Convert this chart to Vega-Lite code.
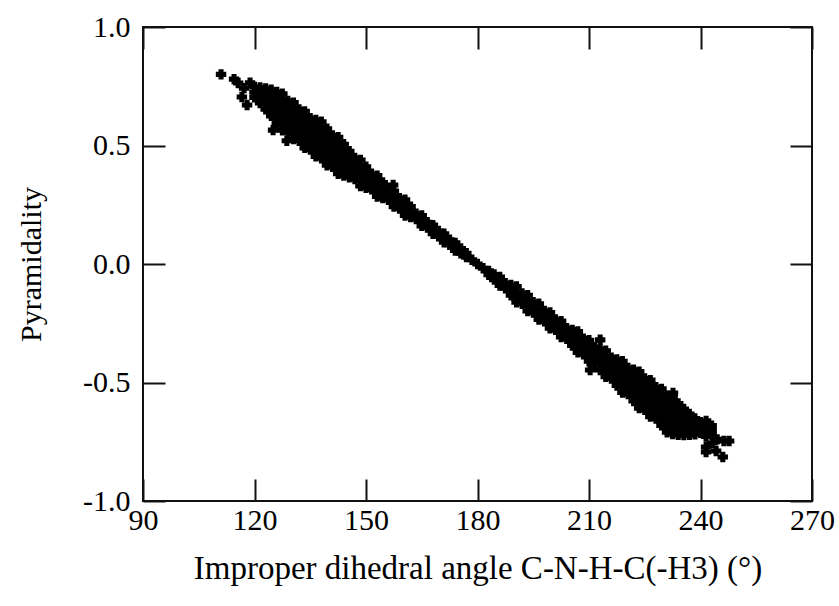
{
"$schema":"https://vega.github.io/schema/vega-lite/v6.json",
"width":669,"height":474,
"autosize":{"type":"none"},
"padding":{"left":143,"top":27,"right":27,"bottom":105},
"background":"white",
"config":{"view":{"stroke":"#111","strokeWidth":2},"font":"Liberation Serif"},
"data":{"values":[
{"angle":120,"pyr":0.747},{"angle":120,"pyr":0.725},{"angle":120,"pyr":0.703},
{"angle":121.5,"pyr":0.745},{"angle":121.5,"pyr":0.723},{"angle":121.5,"pyr":0.701},{"angle":121.5,"pyr":0.679},
{"angle":123,"pyr":0.741},{"angle":123,"pyr":0.719},{"angle":123,"pyr":0.697},{"angle":123,"pyr":0.675},{"angle":123,"pyr":0.653},
{"angle":124.5,"pyr":0.735},{"angle":124.5,"pyr":0.713},{"angle":124.5,"pyr":0.691},{"angle":124.5,"pyr":0.669},{"angle":124.5,"pyr":0.647},{"angle":124.5,"pyr":0.625},
{"angle":126,"pyr":0.726},{"angle":126,"pyr":0.704},{"angle":126,"pyr":0.682},{"angle":126,"pyr":0.66},{"angle":126,"pyr":0.638},{"angle":126,"pyr":0.616},{"angle":126,"pyr":0.594},
{"angle":127.5,"pyr":0.718},{"angle":127.5,"pyr":0.696},{"angle":127.5,"pyr":0.674},{"angle":127.5,"pyr":0.652},{"angle":127.5,"pyr":0.63},{"angle":127.5,"pyr":0.608},{"angle":127.5,"pyr":0.586},{"angle":127.5,"pyr":0.564},
{"angle":129,"pyr":0.688},{"angle":129,"pyr":0.666},{"angle":129,"pyr":0.644},{"angle":129,"pyr":0.622},{"angle":129,"pyr":0.6},{"angle":129,"pyr":0.578},{"angle":129,"pyr":0.556},
{"angle":130.5,"pyr":0.681},{"angle":130.5,"pyr":0.659},{"angle":130.5,"pyr":0.637},{"angle":130.5,"pyr":0.615},{"angle":130.5,"pyr":0.593},{"angle":130.5,"pyr":0.571},{"angle":130.5,"pyr":0.549},{"angle":130.5,"pyr":0.527},
{"angle":132,"pyr":0.652},{"angle":132,"pyr":0.63},{"angle":132,"pyr":0.608},{"angle":132,"pyr":0.586},{"angle":132,"pyr":0.564},{"angle":132,"pyr":0.542},{"angle":132,"pyr":0.52},
{"angle":133.5,"pyr":0.644},{"angle":133.5,"pyr":0.622},{"angle":133.5,"pyr":0.6},{"angle":133.5,"pyr":0.578},{"angle":133.5,"pyr":0.556},{"angle":133.5,"pyr":0.534},{"angle":133.5,"pyr":0.512},{"angle":133.5,"pyr":0.49},
{"angle":135,"pyr":0.615},{"angle":135,"pyr":0.593},{"angle":135,"pyr":0.571},{"angle":135,"pyr":0.549},{"angle":135,"pyr":0.527},{"angle":135,"pyr":0.505},{"angle":135,"pyr":0.483},
{"angle":136.5,"pyr":0.608},{"angle":136.5,"pyr":0.586},{"angle":136.5,"pyr":0.564},{"angle":136.5,"pyr":0.542},{"angle":136.5,"pyr":0.52},{"angle":136.5,"pyr":0.498},{"angle":136.5,"pyr":0.476},{"angle":136.5,"pyr":0.454},
{"angle":138,"pyr":0.6},{"angle":138,"pyr":0.578},{"angle":138,"pyr":0.556},{"angle":138,"pyr":0.534},{"angle":138,"pyr":0.512},{"angle":138,"pyr":0.49},{"angle":138,"pyr":0.468},{"angle":138,"pyr":0.446},
{"angle":139.5,"pyr":0.571},{"angle":139.5,"pyr":0.549},{"angle":139.5,"pyr":0.527},{"angle":139.5,"pyr":0.505},{"angle":139.5,"pyr":0.483},{"angle":139.5,"pyr":0.461},{"angle":139.5,"pyr":0.439},{"angle":139.5,"pyr":0.417},
{"angle":141,"pyr":0.542},{"angle":141,"pyr":0.52},{"angle":141,"pyr":0.498},{"angle":141,"pyr":0.476},{"angle":141,"pyr":0.454},{"angle":141,"pyr":0.432},{"angle":141,"pyr":0.41},
{"angle":142.5,"pyr":0.535},{"angle":142.5,"pyr":0.513},{"angle":142.5,"pyr":0.491},{"angle":142.5,"pyr":0.469},{"angle":142.5,"pyr":0.447},{"angle":142.5,"pyr":0.425},{"angle":142.5,"pyr":0.403},{"angle":142.5,"pyr":0.381},
{"angle":144,"pyr":0.505},{"angle":144,"pyr":0.483},{"angle":144,"pyr":0.461},{"angle":144,"pyr":0.439},{"angle":144,"pyr":0.417},{"angle":144,"pyr":0.395},{"angle":144,"pyr":0.373},
{"angle":145.5,"pyr":0.476},{"angle":145.5,"pyr":0.454},{"angle":145.5,"pyr":0.432},{"angle":145.5,"pyr":0.41},{"angle":145.5,"pyr":0.388},{"angle":145.5,"pyr":0.366},
{"angle":147,"pyr":0.447},{"angle":147,"pyr":0.425},{"angle":147,"pyr":0.403},{"angle":147,"pyr":0.381},{"angle":147,"pyr":0.359},
{"angle":148.5,"pyr":0.439},{"angle":148.5,"pyr":0.417},{"angle":148.5,"pyr":0.395},{"angle":148.5,"pyr":0.373},{"angle":148.5,"pyr":0.351},{"angle":148.5,"pyr":0.329},
{"angle":150,"pyr":0.41},{"angle":150,"pyr":0.388},{"angle":150,"pyr":0.366},{"angle":150,"pyr":0.344},{"angle":150,"pyr":0.322},
{"angle":151.5,"pyr":0.381},{"angle":151.5,"pyr":0.359},{"angle":151.5,"pyr":0.337},{"angle":151.5,"pyr":0.315},
{"angle":153,"pyr":0.373},{"angle":153,"pyr":0.351},{"angle":153,"pyr":0.329},{"angle":153,"pyr":0.307},{"angle":153,"pyr":0.285},
{"angle":154.5,"pyr":0.344},{"angle":154.5,"pyr":0.322},{"angle":154.5,"pyr":0.3},{"angle":154.5,"pyr":0.278},
{"angle":156,"pyr":0.315},{"angle":156,"pyr":0.293},{"angle":156,"pyr":0.271},
{"angle":157.5,"pyr":0.308},{"angle":157.5,"pyr":0.286},{"angle":157.5,"pyr":0.264},{"angle":157.5,"pyr":0.242},
{"angle":159,"pyr":0.278},{"angle":159,"pyr":0.256},{"angle":159,"pyr":0.234},
{"angle":160.5,"pyr":0.271},{"angle":160.5,"pyr":0.249},{"angle":160.5,"pyr":0.227},{"angle":160.5,"pyr":0.205},
{"angle":162,"pyr":0.242},{"angle":162,"pyr":0.22},{"angle":162,"pyr":0.198},
{"angle":163.5,"pyr":0.212},{"angle":163.5,"pyr":0.19},
{"angle":165,"pyr":0.205},{"angle":165,"pyr":0.183},{"angle":165,"pyr":0.161},
{"angle":166.5,"pyr":0.176},{"angle":166.5,"pyr":0.154},
{"angle":168,"pyr":0.164},{"angle":168,"pyr":0.146},{"angle":168,"pyr":0.128},
{"angle":169.5,"pyr":0.139},{"angle":169.5,"pyr":0.117},
{"angle":171,"pyr":0.128},{"angle":171,"pyr":0.11},{"angle":171,"pyr":0.092},
{"angle":172.5,"pyr":0.102},{"angle":172.5,"pyr":0.081},
{"angle":174,"pyr":0.089},{"angle":174,"pyr":0.073},{"angle":174,"pyr":0.057},
{"angle":175.5,"pyr":0.065},{"angle":175.5,"pyr":0.045},
{"angle":177,"pyr":0.045},{"angle":177,"pyr":0.029},
{"angle":178.5,"pyr":0.018},
{"angle":180,"pyr":0.0},
{"angle":181.5,"pyr":-0.018},
{"angle":183,"pyr":-0.029},{"angle":183,"pyr":-0.045},
{"angle":184.5,"pyr":-0.044},{"angle":184.5,"pyr":-0.066},
{"angle":186,"pyr":-0.055},{"angle":186,"pyr":-0.073},{"angle":186,"pyr":-0.091},
{"angle":187.5,"pyr":-0.081},{"angle":187.5,"pyr":-0.102},
{"angle":189,"pyr":-0.088},{"angle":189,"pyr":-0.11},{"angle":189,"pyr":-0.132},
{"angle":190.5,"pyr":-0.095},{"angle":190.5,"pyr":-0.117},{"angle":190.5,"pyr":-0.139},{"angle":190.5,"pyr":-0.161},
{"angle":192,"pyr":-0.124},{"angle":192,"pyr":-0.146},{"angle":192,"pyr":-0.168},
{"angle":193.5,"pyr":-0.132},{"angle":193.5,"pyr":-0.154},{"angle":193.5,"pyr":-0.176},{"angle":193.5,"pyr":-0.198},
{"angle":195,"pyr":-0.161},{"angle":195,"pyr":-0.183},{"angle":195,"pyr":-0.205},
{"angle":196.5,"pyr":-0.168},{"angle":196.5,"pyr":-0.19},{"angle":196.5,"pyr":-0.212},{"angle":196.5,"pyr":-0.234},
{"angle":198,"pyr":-0.198},{"angle":198,"pyr":-0.22},{"angle":198,"pyr":-0.242},
{"angle":199.5,"pyr":-0.205},{"angle":199.5,"pyr":-0.227},{"angle":199.5,"pyr":-0.249},{"angle":199.5,"pyr":-0.271},
{"angle":201,"pyr":-0.234},{"angle":201,"pyr":-0.256},{"angle":201,"pyr":-0.278},
{"angle":202.5,"pyr":-0.241},{"angle":202.5,"pyr":-0.263},{"angle":202.5,"pyr":-0.286},{"angle":202.5,"pyr":-0.308},
{"angle":204,"pyr":-0.271},{"angle":204,"pyr":-0.293},{"angle":204,"pyr":-0.315},
{"angle":205.5,"pyr":-0.278},{"angle":205.5,"pyr":-0.3},{"angle":205.5,"pyr":-0.322},{"angle":205.5,"pyr":-0.344},
{"angle":207,"pyr":-0.285},{"angle":207,"pyr":-0.307},{"angle":207,"pyr":-0.329},{"angle":207,"pyr":-0.351},{"angle":207,"pyr":-0.373},
{"angle":208.5,"pyr":-0.315},{"angle":208.5,"pyr":-0.337},{"angle":208.5,"pyr":-0.359},{"angle":208.5,"pyr":-0.381},
{"angle":210,"pyr":-0.322},{"angle":210,"pyr":-0.344},{"angle":210,"pyr":-0.366},{"angle":210,"pyr":-0.388},{"angle":210,"pyr":-0.41},
{"angle":211.5,"pyr":-0.351},{"angle":211.5,"pyr":-0.373},{"angle":211.5,"pyr":-0.395},{"angle":211.5,"pyr":-0.417},
{"angle":213,"pyr":-0.359},{"angle":213,"pyr":-0.381},{"angle":213,"pyr":-0.403},{"angle":213,"pyr":-0.425},{"angle":213,"pyr":-0.447},
{"angle":214.5,"pyr":-0.366},{"angle":214.5,"pyr":-0.388},{"angle":214.5,"pyr":-0.41},{"angle":214.5,"pyr":-0.432},{"angle":214.5,"pyr":-0.454},{"angle":214.5,"pyr":-0.476},
{"angle":216,"pyr":-0.395},{"angle":216,"pyr":-0.417},{"angle":216,"pyr":-0.439},{"angle":216,"pyr":-0.461},{"angle":216,"pyr":-0.483},
{"angle":217.5,"pyr":-0.403},{"angle":217.5,"pyr":-0.425},{"angle":217.5,"pyr":-0.447},{"angle":217.5,"pyr":-0.469},{"angle":217.5,"pyr":-0.491},{"angle":217.5,"pyr":-0.513},
{"angle":219,"pyr":-0.41},{"angle":219,"pyr":-0.432},{"angle":219,"pyr":-0.454},{"angle":219,"pyr":-0.476},{"angle":219,"pyr":-0.498},{"angle":219,"pyr":-0.52},{"angle":219,"pyr":-0.542},
{"angle":220.5,"pyr":-0.439},{"angle":220.5,"pyr":-0.461},{"angle":220.5,"pyr":-0.483},{"angle":220.5,"pyr":-0.505},{"angle":220.5,"pyr":-0.527},{"angle":220.5,"pyr":-0.549},
{"angle":222,"pyr":-0.446},{"angle":222,"pyr":-0.468},{"angle":222,"pyr":-0.49},{"angle":222,"pyr":-0.512},{"angle":222,"pyr":-0.534},{"angle":222,"pyr":-0.556},{"angle":222,"pyr":-0.578},
{"angle":223.5,"pyr":-0.454},{"angle":223.5,"pyr":-0.476},{"angle":223.5,"pyr":-0.498},{"angle":223.5,"pyr":-0.52},{"angle":223.5,"pyr":-0.542},{"angle":223.5,"pyr":-0.564},{"angle":223.5,"pyr":-0.586},{"angle":223.5,"pyr":-0.608},
{"angle":225,"pyr":-0.483},{"angle":225,"pyr":-0.505},{"angle":225,"pyr":-0.527},{"angle":225,"pyr":-0.549},{"angle":225,"pyr":-0.571},{"angle":225,"pyr":-0.593},{"angle":225,"pyr":-0.615},
{"angle":226.5,"pyr":-0.49},{"angle":226.5,"pyr":-0.512},{"angle":226.5,"pyr":-0.534},{"angle":226.5,"pyr":-0.556},{"angle":226.5,"pyr":-0.578},{"angle":226.5,"pyr":-0.6},{"angle":226.5,"pyr":-0.622},{"angle":226.5,"pyr":-0.644},
{"angle":228,"pyr":-0.52},{"angle":228,"pyr":-0.542},{"angle":228,"pyr":-0.564},{"angle":228,"pyr":-0.586},{"angle":228,"pyr":-0.608},{"angle":228,"pyr":-0.63},{"angle":228,"pyr":-0.652},
{"angle":229.5,"pyr":-0.527},{"angle":229.5,"pyr":-0.549},{"angle":229.5,"pyr":-0.571},{"angle":229.5,"pyr":-0.593},{"angle":229.5,"pyr":-0.615},{"angle":229.5,"pyr":-0.637},{"angle":229.5,"pyr":-0.659},{"angle":229.5,"pyr":-0.681},
{"angle":231,"pyr":-0.556},{"angle":231,"pyr":-0.578},{"angle":231,"pyr":-0.6},{"angle":231,"pyr":-0.622},{"angle":231,"pyr":-0.644},{"angle":231,"pyr":-0.666},{"angle":231,"pyr":-0.688},{"angle":231,"pyr":-0.71},
{"angle":232.5,"pyr":-0.563},{"angle":232.5,"pyr":-0.585},{"angle":232.5,"pyr":-0.607},{"angle":232.5,"pyr":-0.629},{"angle":232.5,"pyr":-0.651},{"angle":232.5,"pyr":-0.673},{"angle":232.5,"pyr":-0.695},{"angle":232.5,"pyr":-0.717},
{"angle":234,"pyr":-0.589},{"angle":234,"pyr":-0.611},{"angle":234,"pyr":-0.633},{"angle":234,"pyr":-0.655},{"angle":234,"pyr":-0.677},{"angle":234,"pyr":-0.699},{"angle":234,"pyr":-0.721},
{"angle":235.5,"pyr":-0.612},{"angle":235.5,"pyr":-0.634},{"angle":235.5,"pyr":-0.656},{"angle":235.5,"pyr":-0.678},{"angle":235.5,"pyr":-0.7},{"angle":235.5,"pyr":-0.722},
{"angle":237,"pyr":-0.633},{"angle":237,"pyr":-0.655},{"angle":237,"pyr":-0.677},{"angle":237,"pyr":-0.699},{"angle":237,"pyr":-0.721},
{"angle":238.5,"pyr":-0.652},{"angle":238.5,"pyr":-0.674},{"angle":238.5,"pyr":-0.696},{"angle":238.5,"pyr":-0.718},
{"angle":240,"pyr":-0.668},{"angle":240,"pyr":-0.69},{"angle":240,"pyr":-0.712},
{"angle":241.5,"pyr":-0.662},{"angle":241.5,"pyr":-0.684},{"angle":241.5,"pyr":-0.706},{"angle":241.5,"pyr":-0.728},
{"angle":243,"pyr":-0.682},{"angle":243,"pyr":-0.7},{"angle":243,"pyr":-0.718},
{"angle":111,"pyr":0.8},{"angle":114.5,"pyr":0.78},{"angle":115.6,"pyr":0.764},{"angle":116.6,"pyr":0.705},{"angle":118,"pyr":0.671},{"angle":117.2,"pyr":0.742},{"angle":118.8,"pyr":0.765},
{"angle":125,"pyr":0.565},{"angle":128.7,"pyr":0.52},{"angle":157.3,"pyr":0.333},{"angle":213,"pyr":-0.32},{"angle":210.3,"pyr":-0.447},{"angle":232.6,"pyr":-0.544},
{"angle":246.3,"pyr":-0.747},{"angle":247.7,"pyr":-0.747},{"angle":241.5,"pyr":-0.772},{"angle":244.2,"pyr":-0.789},{"angle":246,"pyr":-0.814},{"angle":241.5,"pyr":-0.793},{"angle":244.5,"pyr":-0.74},{"angle":243.2,"pyr":-0.755}
]},
"layer":[
{"mark":{"type":"point","shape":"cross","filled":true,"size":80,"color":"black","opacity":1,"stroke":"black","strokeWidth":1.5},
 "encoding":{
  "x":{"field":"angle","type":"quantitative","scale":{"domain":[90,270],"nice":false,"zero":false},
   "axis":{"orient":"bottom","values":[90,120,150,180,210,240,270],"format":"d","grid":false,"domain":false,"tickSize":-22,"tickWidth":2,"tickColor":"#111","labelPadding":26,"labelFlush":false,"labelOverlap":false,"labelFont":"Liberation Serif","labelFontSize":30,"labelColor":"black","title":"Improper dihedral angle C-N-H-C(-H3) (°)","titleFont":"Liberation Serif","titleFontSize":33,"titleFontWeight":"normal","titleColor":"black","titlePadding":17}},
  "y":{"field":"pyr","type":"quantitative","scale":{"domain":[-1,1],"nice":false,"zero":false},
   "axis":{"orient":"left","values":[-1,-0.5,0,0.5,1],"labelExpr":"replace(format(datum.value,'.1f'),'−','-')","grid":false,"domain":false,"tickSize":-22,"tickWidth":2,"tickColor":"#111","labelPadding":35,"labelOverlap":false,"labelFont":"Liberation Serif","labelFontSize":30,"labelColor":"black","title":"Pyramidality","titleFont":"Liberation Serif","titleFontSize":30,"titleFontWeight":"normal","titleColor":"black","titlePadding":36}}
 }},
{"mark":{"type":"point","opacity":0},
 "encoding":{
  "x":{"field":"angle","type":"quantitative","axis":{"orient":"top","values":[90,120,150,180,210,240,270],"labels":false,"title":null,"grid":false,"domain":false,"tickSize":-22,"tickWidth":2,"tickColor":"#111"}},
  "y":{"field":"pyr","type":"quantitative","axis":{"orient":"right","values":[-1,-0.5,0,0.5,1],"labels":false,"title":null,"grid":false,"domain":false,"tickSize":-22,"tickWidth":2,"tickColor":"#111"}}
 }}
],
"resolve":{"axis":{"x":"independent","y":"independent"}}
}
